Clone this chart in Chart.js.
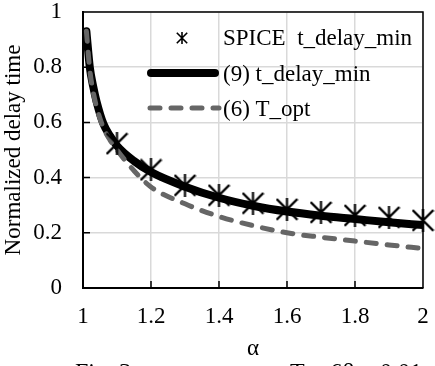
<!DOCTYPE html>
<html>
<head>
<meta charset="utf-8">
<script src="https://cdn.jsdelivr.net/npm/chart.js@4.4.1/dist/chart.umd.min.js"></script>
<style>
  html, body { margin: 0; padding: 0; background: #fff; }
  #wrap { width: 435px; height: 366px; overflow: hidden; }
</style>
</head>
<body>
<div id="wrap"><canvas id="delayChart" width="435" height="366"></canvas></div>
<script>
// data
const alphaLine = [1.01, 1.02, 1.03, 1.04, 1.06, 1.08, 1.1, 1.15, 1.2, 1.3, 1.4, 1.5, 1.6, 1.7, 1.8, 1.9, 2.0];
const delayModel = [0.93, 0.80, 0.73, 0.675, 0.595, 0.55, 0.515, 0.46, 0.42, 0.367, 0.327, 0.298, 0.277, 0.262, 0.25, 0.238, 0.228];
const tOpt = [0.93, 0.79, 0.71, 0.655, 0.58, 0.535, 0.5, 0.425, 0.366, 0.305, 0.259, 0.226, 0.2, 0.184, 0.17, 0.156, 0.143];
const alphaSpice = [1.1, 1.2, 1.3, 1.4, 1.5, 1.6, 1.7, 1.8, 1.9, 2.0];
const delaySpice = [0.523, 0.428, 0.372, 0.336, 0.307, 0.285, 0.274, 0.263, 0.256, 0.245];
const xTickLabels = ['1', '1.2', '1.4', '1.6', '1.8', '2'];
const yTickLabels = ['0', '0.2', '0.4', '0.6', '0.8', '1'];
const seriesNames = ['SPICE  t_delay_min', '(9) t_delay_min', '(6) T_opt'];

const SERIF = "'Liberation Serif', 'Times New Roman', serif";
Chart.defaults.font.family = SERIF;
Chart.defaults.color = '#000';

// excel-like star marker: X plus a vertical bar
function starMarker(size, lw) {
    const c = document.createElement('canvas');
    c.width = size; c.height = size;
    const g = c.getContext('2d');
    g.strokeStyle = '#000';
    g.lineWidth = lw;
    const p = lw / 2, h = size / 2;
    g.beginPath();
    g.moveTo(p, p); g.lineTo(size - p, size - p);
    g.moveTo(size - p, p); g.lineTo(p, size - p);
    g.moveTo(h, 0); g.lineTo(h, size);
    g.stroke();
    return c;
}
const bigStar = starMarker(23, 2.2);
const smallStar = starMarker(12, 1.6);

const pts = (xs, ys) => xs.map((v, i) => ({ x: v, y: ys[i] }));

const decor = {
    id: 'decor',
    afterDraw(chart) {
        const { ctx, chartArea: a, scales: { x, y } } = chart;
        ctx.save();
        ctx.strokeStyle = '#000';
        ctx.lineWidth = 1.5;
        ctx.beginPath();
        ctx.moveTo(a.left, a.top);
        ctx.lineTo(a.right, a.top);
        ctx.lineTo(a.right, a.bottom);
        // inside tick marks
        x.ticks.forEach(t => {
            const px = x.getPixelForValue(t.value);
            ctx.moveTo(px, a.bottom); ctx.lineTo(px, a.bottom - 7);
        });
        y.ticks.forEach(t => {
            const py = y.getPixelForValue(t.value);
            ctx.moveTo(a.left, py); ctx.lineTo(a.left + 7, py);
        });
        ctx.stroke();

        // legend inside the plot
        ctx.font = '23px ' + SERIF;
        ctx.fillStyle = '#000';
        ctx.textBaseline = 'alphabetic';
        ctx.drawImage(smallStar, 182 - 6, 38 - 6);
        ctx.fillText(seriesNames[0], 223, 45);

        ctx.lineCap = 'round';
        ctx.lineWidth = 8;
        ctx.beginPath(); ctx.moveTo(151, 73); ctx.lineTo(215, 73); ctx.stroke();
        ctx.fillText(seriesNames[1], 223, 81);

        ctx.strokeStyle = '#666666';
        ctx.lineWidth = 5;
        ctx.setLineDash([10, 11]);
        ctx.beginPath(); ctx.moveTo(150, 108); ctx.lineTo(219, 108); ctx.stroke();
        ctx.setLineDash([]);
        ctx.fillText(seriesNames[2], 223, 116);

        // caption, cut by the bottom edge
        ctx.font = '24px ' + SERIF;
        ctx.fillText('Fig. 3', 75, 379);
        ctx.fillText('T = 6β = 0.01', 290, 379);
        ctx.restore();
    }
};

new Chart(document.getElementById('delayChart'), {
    type: 'line',
    data: {
        datasets: [{
            label: seriesNames[0],
            data: pts(alphaSpice, delaySpice),
            showLine: false,
            pointStyle: bigStar,
            pointRadius: 11,
            clip: false,
            order: 0
        }, {
            label: seriesNames[1],
            data: pts(alphaLine, delayModel),
            borderColor: '#000',
            borderWidth: 8,
            borderCapStyle: 'round',
            borderJoinStyle: 'round',
            cubicInterpolationMode: 'monotone',
            pointRadius: 0,
            order: 2
        }, {
            label: seriesNames[2],
            data: pts(alphaLine, tOpt),
            borderColor: '#666666',
            borderWidth: 5,
            borderDash: [10, 11],
            borderCapStyle: 'round',
            cubicInterpolationMode: 'monotone',
            pointRadius: 0,
            order: 1
        }]
    },
    options: {
        responsive: false,
        animation: false,
        layout: { padding: { left: 0, right: 3, top: 11, bottom: 0 } },
        plugins: { legend: { display: false }, tooltip: { enabled: false } },
        scales: {
            x: {
                type: 'linear',
                min: 1, max: 2,
                afterFit: s => { s.height = 78; s.paddingLeft = 0; s.paddingRight = 0; },
                ticks: {
                    stepSize: 0.2,
                    padding: 15,
                    font: { size: 23 },
                    maxRotation: 0,
                    callback: (v, i) => xTickLabels[i]
                },
                grid: { color: '#d9d9d9', lineWidth: 1.5, drawTicks: false },
                border: { display: true, color: '#000', width: 2 },
                title: { display: true, text: 'α', font: { size: 23 }, padding: { top: 0, bottom: 3 } }
            },
            y: {
                min: 0, max: 1,
                afterFit: s => { s.width = 83; s.paddingTop = 0; s.paddingBottom = 0; },
                ticks: {
                    stepSize: 0.2,
                    padding: 21,
                    font: { size: 23 },
                    callback: (v, i) => yTickLabels[i]
                },
                grid: { color: '#d9d9d9', lineWidth: 1.5, drawTicks: false },
                border: { display: true, color: '#000', width: 2 },
                title: { display: true, text: 'Normalized delay time', font: { size: 23 }, padding: { top: 0, bottom: 0 } }
            }
        }
    },
    plugins: [decor]
});
</script>
</body>
</html>
